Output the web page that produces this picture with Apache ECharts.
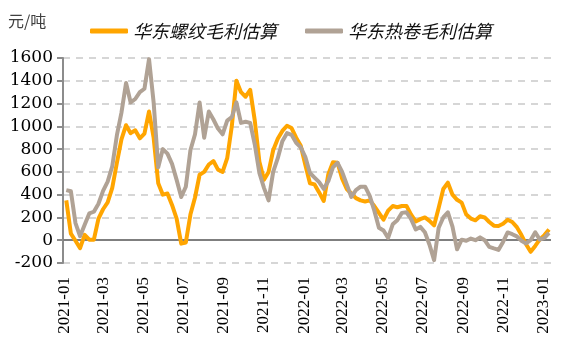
<!DOCTYPE html>
<html>
<head>
<meta charset="utf-8">
<title>华东螺纹与热卷毛利估算</title>
<script src="https://cdn.jsdelivr.net/npm/echarts@6/dist/echarts.min.js"></script>
<style>
  html, body { margin: 0; padding: 0; background: #fff; }
  #chart { width: 581px; height: 345px; }
</style>
</head>
<body>
<div id="chart"></div>
<script>
// Weekly observation dates (Mondays)
const weekDates = [
  '2021-01-04','2021-01-11','2021-01-18','2021-01-25','2021-02-01','2021-02-08','2021-02-15','2021-02-22',
  '2021-03-01','2021-03-08','2021-03-15','2021-03-22','2021-03-29','2021-04-05','2021-04-12','2021-04-19',
  '2021-04-26','2021-05-03','2021-05-10','2021-05-17','2021-05-24','2021-05-31','2021-06-07','2021-06-14',
  '2021-06-21','2021-06-28','2021-07-05','2021-07-12','2021-07-19','2021-07-26','2021-08-02','2021-08-09',
  '2021-08-16','2021-08-23','2021-08-30','2021-09-06','2021-09-13','2021-09-20','2021-09-27','2021-10-04',
  '2021-10-11','2021-10-18','2021-10-25','2021-11-01','2021-11-08','2021-11-15','2021-11-22','2021-11-29',
  '2021-12-06','2021-12-13','2021-12-20','2021-12-27','2022-01-03','2022-01-10','2022-01-17','2022-01-24',
  '2022-01-31','2022-02-07','2022-02-14','2022-02-21','2022-02-28','2022-03-07','2022-03-14','2022-03-21',
  '2022-03-28','2022-04-04','2022-04-11','2022-04-18','2022-04-25','2022-05-02','2022-05-09','2022-05-16',
  '2022-05-23','2022-05-30','2022-06-06','2022-06-13','2022-06-20','2022-06-27','2022-07-04','2022-07-11',
  '2022-07-18','2022-07-25','2022-08-01','2022-08-08','2022-08-15','2022-08-22','2022-08-29','2022-09-05',
  '2022-09-12','2022-09-19','2022-09-26','2022-10-03','2022-10-10','2022-10-17','2022-10-24','2022-10-31',
  '2022-11-07','2022-11-14','2022-11-21','2022-11-28','2022-12-05','2022-12-12','2022-12-19','2022-12-26',
  '2023-01-02','2023-01-09'
];

// 华东螺纹毛利估算 (元/吨)
const rebarMargin = [
  350, 58, -5, -70, 47, 5, 5, 190,
  272, 332, 460, 678, 885, 1010, 940, 965,
  895, 936, 1130, 900, 500, 400, 410, 310,
  190, -30, -20, 225, 375, 575, 600, 665,
  695, 620, 600, 720, 1000, 1400, 1300, 1260,
  1320, 1050, 690, 530, 600, 790, 890, 960,
  1005, 985, 900, 830, 660, 500, 490, 420,
  345, 580, 685, 680, 540, 450, 410, 370,
  350, 340, 350, 300, 240, 180, 260, 300,
  290, 300, 300, 225, 165, 185, 200, 170,
  130, 285, 450, 505, 400, 355, 330, 225,
  190, 175, 210, 200, 160, 128, 125, 145,
  180, 160, 115, 45, -35, -102, -50, 7,
  45, 95
];

// 华东热卷毛利估算 (元/吨)
const coilMargin = [
  440, 430, 150, 35, 135, 235, 250, 320,
  433, 514, 650, 920, 1120, 1380, 1210, 1240,
  1300, 1330, 1590, 1210, 640, 800, 760, 670,
  530, 380, 470, 790, 930, 1210, 900, 1130,
  1060, 980, 930, 1050, 1080, 1210, 1030, 1040,
  1030, 840, 590, 460, 350, 600, 720, 870,
  940, 925, 855, 815, 730, 590, 550, 510,
  450, 520, 640, 680, 600, 490, 380, 440,
  470, 470, 390, 260, 110, 85, 20, 140,
  175, 240, 245, 185, 95, 117, 70, -40,
  -175, 110, 200, 245, 120, -80, 5, -5,
  15, 0, 25, 0, -58, -72, -85, -15,
  68, 53, 34, -5, -28, 0, 70, 5,
  20, 65
];

// Month labels shown under the date axis
const xTickLabels = [
  '2021-01','2021-03','2021-05','2021-07','2021-09','2021-11',
  '2022-01','2022-03','2022-05','2022-07','2022-09','2022-11','2023-01'
];

// Value axis ticks
const yMin = -200, yMax = 1600, yStep = 200;

const seriesNames = ['华东螺纹毛利估算', '华东热卷毛利估算'];
const seriesColors = ['#FFA500', '#B0A295'];

function toTime(s) {
  const p = s.split('-').map(Number);
  return Date.UTC(p[0], p[1] - 1, p[2] || 1);
}
function pad2(n) { return (n < 10 ? '0' : '') + n; }

const tickTimes = xTickLabels.map(toTime);
const rebarData = weekDates.map((d, i) => [toTime(d), rebarMargin[i]]);
const coilData = weekDates.map((d, i) => [toTime(d), coilMargin[i]]);

const chart = echarts.init(document.getElementById('chart'), null, { renderer: 'canvas' });

chart.setOption({
  animation: false,
  backgroundColor: '#ffffff',
  title: {
    text: '元/吨',
    left: 8,
    top: 13,
    padding: 0,
    textStyle: {
      fontFamily: 'Noto Sans CJK SC',
      fontSize: 16,
      fontWeight: 'normal',
      color: '#404040'
    }
  },
  legend: {
    data: seriesNames,
    left: 85,
    top: 17,
    itemWidth: 38,
    itemHeight: 5,
    itemGap: 28,
    icon: 'roundRect',
    textStyle: {
      fontFamily: 'Noto Sans CJK SC',
      fontStyle: 'italic',
      fontSize: 18,
      color: '#111'
    }
  },
  grid: {
    left: 63,
    right: 30,
    top: 58,
    bottom: 82,
    containLabel: false
  },
  // Dates are plotted as UTC millisecond values; labels sit on the first of each listed month
  xAxis: {
    type: 'value',
    min: Date.UTC(2020, 11, 30),
    max: Date.UTC(2023, 0, 12),
    axisLine: { show: false, onZero: false },
    axisTick: { show: false },
    splitLine: { show: false },
    axisLabel: {
      customValues: tickTimes,
      rotate: 90,
      margin: 14,
      fontFamily: 'Liberation Serif',
      fontSize: 17,
      color: '#000',
      formatter: function (v) {
        const d = new Date(v);
        return d.getUTCFullYear() + '-' + pad2(d.getUTCMonth() + 1);
      }
    }
  },
  yAxis: {
    type: 'value',
    min: yMin,
    max: yMax,
    interval: yStep,
    axisLine: { show: true, lineStyle: { color: '#8c8c8c', width: 2 } },
    axisTick: { show: true, inside: false, length: 6, lineStyle: { color: '#8c8c8c', width: 2 } },
    axisLabel: {
      margin: 10,
      fontFamily: 'DejaVu Serif',
      fontSize: 17,
      color: '#000',
      formatter: function (v) { return String(v); }
    },
    splitLine: {
      show: true,
      lineStyle: { color: '#d6d6d6', width: 2, type: [7, 6] }
    }
  },
  series: [
    {
      name: seriesNames[0],
      type: 'line',
      data: rebarData,
      showSymbol: false,
      symbol: 'none',
      color: seriesColors[0],
      lineStyle: { width: 4, color: seriesColors[0], join: 'round' },
      z: 3,
      markLine: {
        silent: true,
        symbol: ['none', 'none'],
        label: { show: false },
        lineStyle: { color: '#7f7f7f', width: 2, type: 'solid' },
        data: [{ yAxis: 0 }],
        z: 1
      }
    },
    {
      name: seriesNames[1],
      type: 'line',
      data: coilData,
      showSymbol: false,
      symbol: 'none',
      color: seriesColors[1],
      lineStyle: { width: 4, color: seriesColors[1], join: 'round' },
      z: 4
    }
  ]
});
</script>
</body>
</html>
